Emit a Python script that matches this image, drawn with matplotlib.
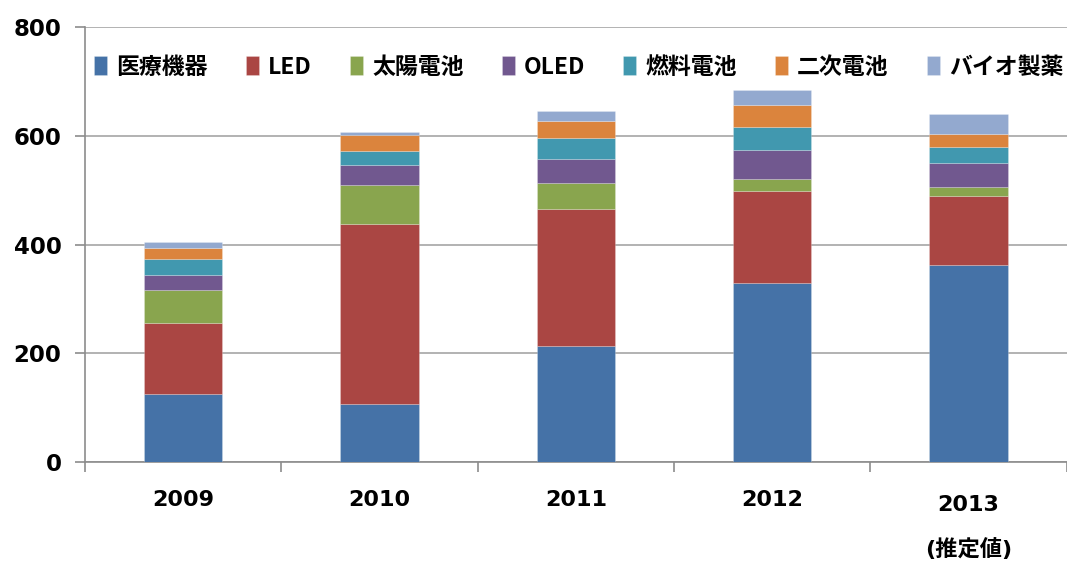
import matplotlib
matplotlib.use("Agg")
import matplotlib.pyplot as plt
from matplotlib.transforms import ScaledTranslation
import numpy as np

plt.rcParams['font.family'] = ['DejaVu Sans', 'Noto Sans CJK JP']

years = ["2009", "2010", "2011", "2012", "2013\n(推定値)"]
series_names = ["医療機器", "LED", "太陽電池", "OLED", "燃料電池", "二次電池", "バイオ製薬"]
medical = [126, 107, 213, 330, 362]
led = [130, 330, 252, 169, 128]
solar = [61, 72, 48, 21, 16]
oled = [28, 38, 45, 54, 44]
fuelcell = [28, 25, 38, 42, 30]
battery = [21, 29, 32, 40, 24]
biopharma = [10, 6, 17, 29, 37]
colors = ["#4572A7", "#AA4643", "#89A54E", "#71588F", "#4198AF", "#DB843D", "#93A9CF"]

series = [medical, led, solar, oled, fuelcell, battery, biopharma]

fig = plt.figure(figsize=(10.67, 5.63), dpi=100)
ax = fig.add_axes([0.0797, 0.179, 0.92, 0.773])

x = np.arange(len(years))
bottom = np.zeros(len(years))
for name, vals, c in zip(series_names, series, colors):
    ax.bar(x, vals, 0.4, bottom=bottom, color=c, label=name, zorder=3,
           edgecolor='#ffffff40', linewidth=0.6)
    bottom += np.array(vals)

ax.set_ylim(0, 800)
ax.set_xlim(-0.5, len(years) - 0.5)
ax.set_yticks([0, 200, 400, 600, 800])
ax.yaxis.grid(True, color='#a6a6a6', linewidth=1.2, zorder=0)
ax.set_axisbelow(True)

for s in ['top', 'right']:
    ax.spines[s].set_visible(False)
for s in ['left', 'bottom']:
    ax.spines[s].set_color('#8c8c8c')
    ax.spines[s].set_linewidth(1.2)

ax.tick_params(axis='y', length=7, width=1.2, color='#8c8c8c', labelsize=16.5, pad=10)
for lab in ax.get_yticklabels():
    lab.set_fontweight('bold')

ax.set_xticks(x)
ax.set_xticklabels(years, fontsize=16, fontweight='bold', linespacing=2.25, va='top',
                   family=['DejaVu Sans', 'Noto Sans CJK JP'])
ax.tick_params(axis='x', length=0, pad=20)
ax.set_xticks(np.arange(-0.5, len(years) + 0.5, 1), minor=True)
ax.tick_params(axis='x', which='minor', length=7, width=1.2, color='#8c8c8c')
last = ax.get_xticklabels()[-1]
last.set_transform(last.get_transform() + ScaledTranslation(0, -5 / 100, fig.dpi_scale_trans))

leg = ax.legend(ncol=7, loc='center left', bbox_to_anchor=((94 - 85) / 983, 0.908), frameon=False,
                borderaxespad=0, borderpad=0,
                handlelength=0.57, handleheight=0.9, handletextpad=0.4, columnspacing=1.66,
                prop={'family': ['Noto Sans CJK JP', 'DejaVu Sans'], 'weight': 'bold', 'size': 16.5})

fig.savefig("out.png", dpi=100)
